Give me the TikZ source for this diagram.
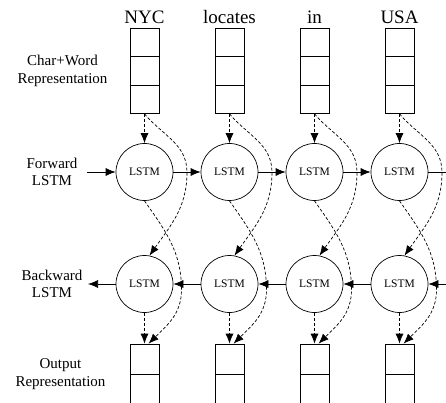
\documentclass[tikz,border=0pt]{standalone}
\usepackage{fontspec}
\setmainfont{Liberation Serif}
\usetikzlibrary{arrows.meta}

\begin{document}
\begin{tikzpicture}[
    node distance=85pt,
    >={Latex[length=10pt,width=8pt]},
    line width=0.7pt,
    cell/.style={rectangle, draw, minimum width=29pt, minimum height=28.5pt, inner sep=0pt},
    outcell/.style={rectangle, draw, minimum width=29pt, minimum height=30pt, inner sep=0pt},
    lstm/.style={circle, draw, minimum size=57pt, inner sep=0pt, font=\fontsize{11.5}{13}\selectfont},
    word/.style={font=\fontsize{19}{22}\selectfont, text height=13pt, text depth=4pt, inner sep=0pt},
    lbl/.style={align=center, font=\fontsize{15}{17.5}\selectfont},
    link/.style={->, dash pattern=on 3pt off 2pt}
]
\useasboundingbox (-144.5pt,42.25pt) rectangle (301.5pt,-360.75pt);
\clip (-144.5pt,42.25pt) rectangle (301.5pt,-360.75pt);

% Char+Word vectors
\node[cell] (c1a) {};
\node[cell, below of=c1a, node distance=28.5pt] (c1b) {};
\node[cell, below of=c1b, node distance=28.5pt] (c1c) {};
\node[cell, right of=c1a] (c2a) {};
\node[cell, below of=c2a, node distance=28.5pt] (c2b) {};
\node[cell, below of=c2b, node distance=28.5pt] (c2c) {};
\node[cell, right of=c2a] (c3a) {};
\node[cell, below of=c3a, node distance=28.5pt] (c3b) {};
\node[cell, below of=c3b, node distance=28.5pt] (c3c) {};
\node[cell, right of=c3a] (c4a) {};
\node[cell, below of=c4a, node distance=28.5pt] (c4b) {};
\node[cell, below of=c4b, node distance=28.5pt] (c4c) {};

% Words
\node[word, above of=c1a, node distance=22.75pt] (w1) {NYC};
\node[word, above of=c2a, node distance=22.75pt] (w2) {locates};
\node[word, above of=c3a, node distance=22.75pt] (w3) {in};
\node[word, above of=c4a, node distance=22.75pt] (w4) {USA};

% Forward LSTM
\node[lstm, below of=c1c, node distance=72.75pt] (f1) {LSTM};
\node[lstm, right of=f1] (f2) {LSTM};
\node[lstm, right of=f2] (f3) {LSTM};
\node[lstm, right of=f3] (f4) {LSTM};

% Backward LSTM
\node[lstm, below of=f1, node distance=112pt] (b1) {LSTM};
\node[lstm, right of=b1] (b2) {LSTM};
\node[lstm, right of=b2] (b3) {LSTM};
\node[lstm, right of=b3] (b4) {LSTM};

% Output vectors
\node[outcell, below of=b1, node distance=75pt] (o1a) {};
\node[outcell, below of=o1a, node distance=30pt] (o1b) {};
\node[outcell, right of=o1a] (o2a) {};
\node[outcell, below of=o2a, node distance=30pt] (o2b) {};
\node[outcell, right of=o2a] (o3a) {};
\node[outcell, below of=o3a, node distance=30pt] (o3b) {};
\node[outcell, right of=o3a] (o4a) {};
\node[outcell, below of=o4a, node distance=30pt] (o4b) {};

% Row labels
\node[lbl, left of=c1b, node distance=82pt] (lchar) {Char+Word\\Representation};
\node[lbl, left of=f1, node distance=92.5pt] (lfwd) {Forward\\LSTM};
\node[lbl, left of=b1, node distance=92.5pt] (lbwd) {Backward\\LSTM};
\node[lbl, left of=o1a, node distance=84pt, yshift=-15pt] (lout) {Output\\Representation};

% Free ends
\coordinate[left of=f1, node distance=57.5pt] (fin);
\coordinate[right of=f4, node distance=60pt] (fend);
\coordinate[left of=b1, node distance=56.5pt] (bout);
\coordinate[right of=b4, node distance=60pt] (bin);

% Recurrent links
\draw[->] (fin) -- (f1);
\draw[->] (f1) -- (f2);
\draw[->] (f2) -- (f3);
\draw[->] (f3) -- (f4);
\draw (f4) -- (fend);
\draw[->] (bin) -- (b4);
\draw[->] (b4) -- (b3);
\draw[->] (b3) -- (b2);
\draw[->] (b2) -- (b1);
\draw[->] (b1) -- (bout);

% Inputs to LSTMs
\draw[link] (c1c.south) -- (f1.north);
\draw[link] (c2c.south) -- (f2.north);
\draw[link] (c3c.south) -- (f3.north);
\draw[link] (c4c.south) -- (f4.north);
\draw[link] (c1c.south) to[out=-50,in=90] ++(42.5pt,-58.5pt) to[out=-90,in=55] (b1.80);
\draw[link] (c2c.south) to[out=-50,in=90] ++(42.5pt,-58.5pt) to[out=-90,in=55] (b2.80);
\draw[link] (c3c.south) to[out=-50,in=90] ++(42.5pt,-58.5pt) to[out=-90,in=55] (b3.80);
\draw[link] (c4c.south) to[out=-50,in=90] ++(42.5pt,-58.5pt) to[out=-90,in=55] (b4.80);

% LSTMs to outputs
\draw[link] (b1.south) -- (o1a.north);
\draw[link] (b2.south) -- (o2a.north);
\draw[link] (b3.south) -- (o3a.north);
\draw[link] (b4.south) -- (o4a.north);
\draw[link] (f1.south) to[out=-55,in=90] ++(37pt,-89pt) to[out=-90,in=45] (o1a.75);
\draw[link] (f2.south) to[out=-55,in=90] ++(37pt,-89pt) to[out=-90,in=45] (o2a.75);
\draw[link] (f3.south) to[out=-55,in=90] ++(37pt,-89pt) to[out=-90,in=45] (o3a.75);
\draw[link] (f4.south) to[out=-55,in=90] ++(37pt,-89pt) to[out=-90,in=45] (o4a.75);

\end{tikzpicture}
\end{document}
